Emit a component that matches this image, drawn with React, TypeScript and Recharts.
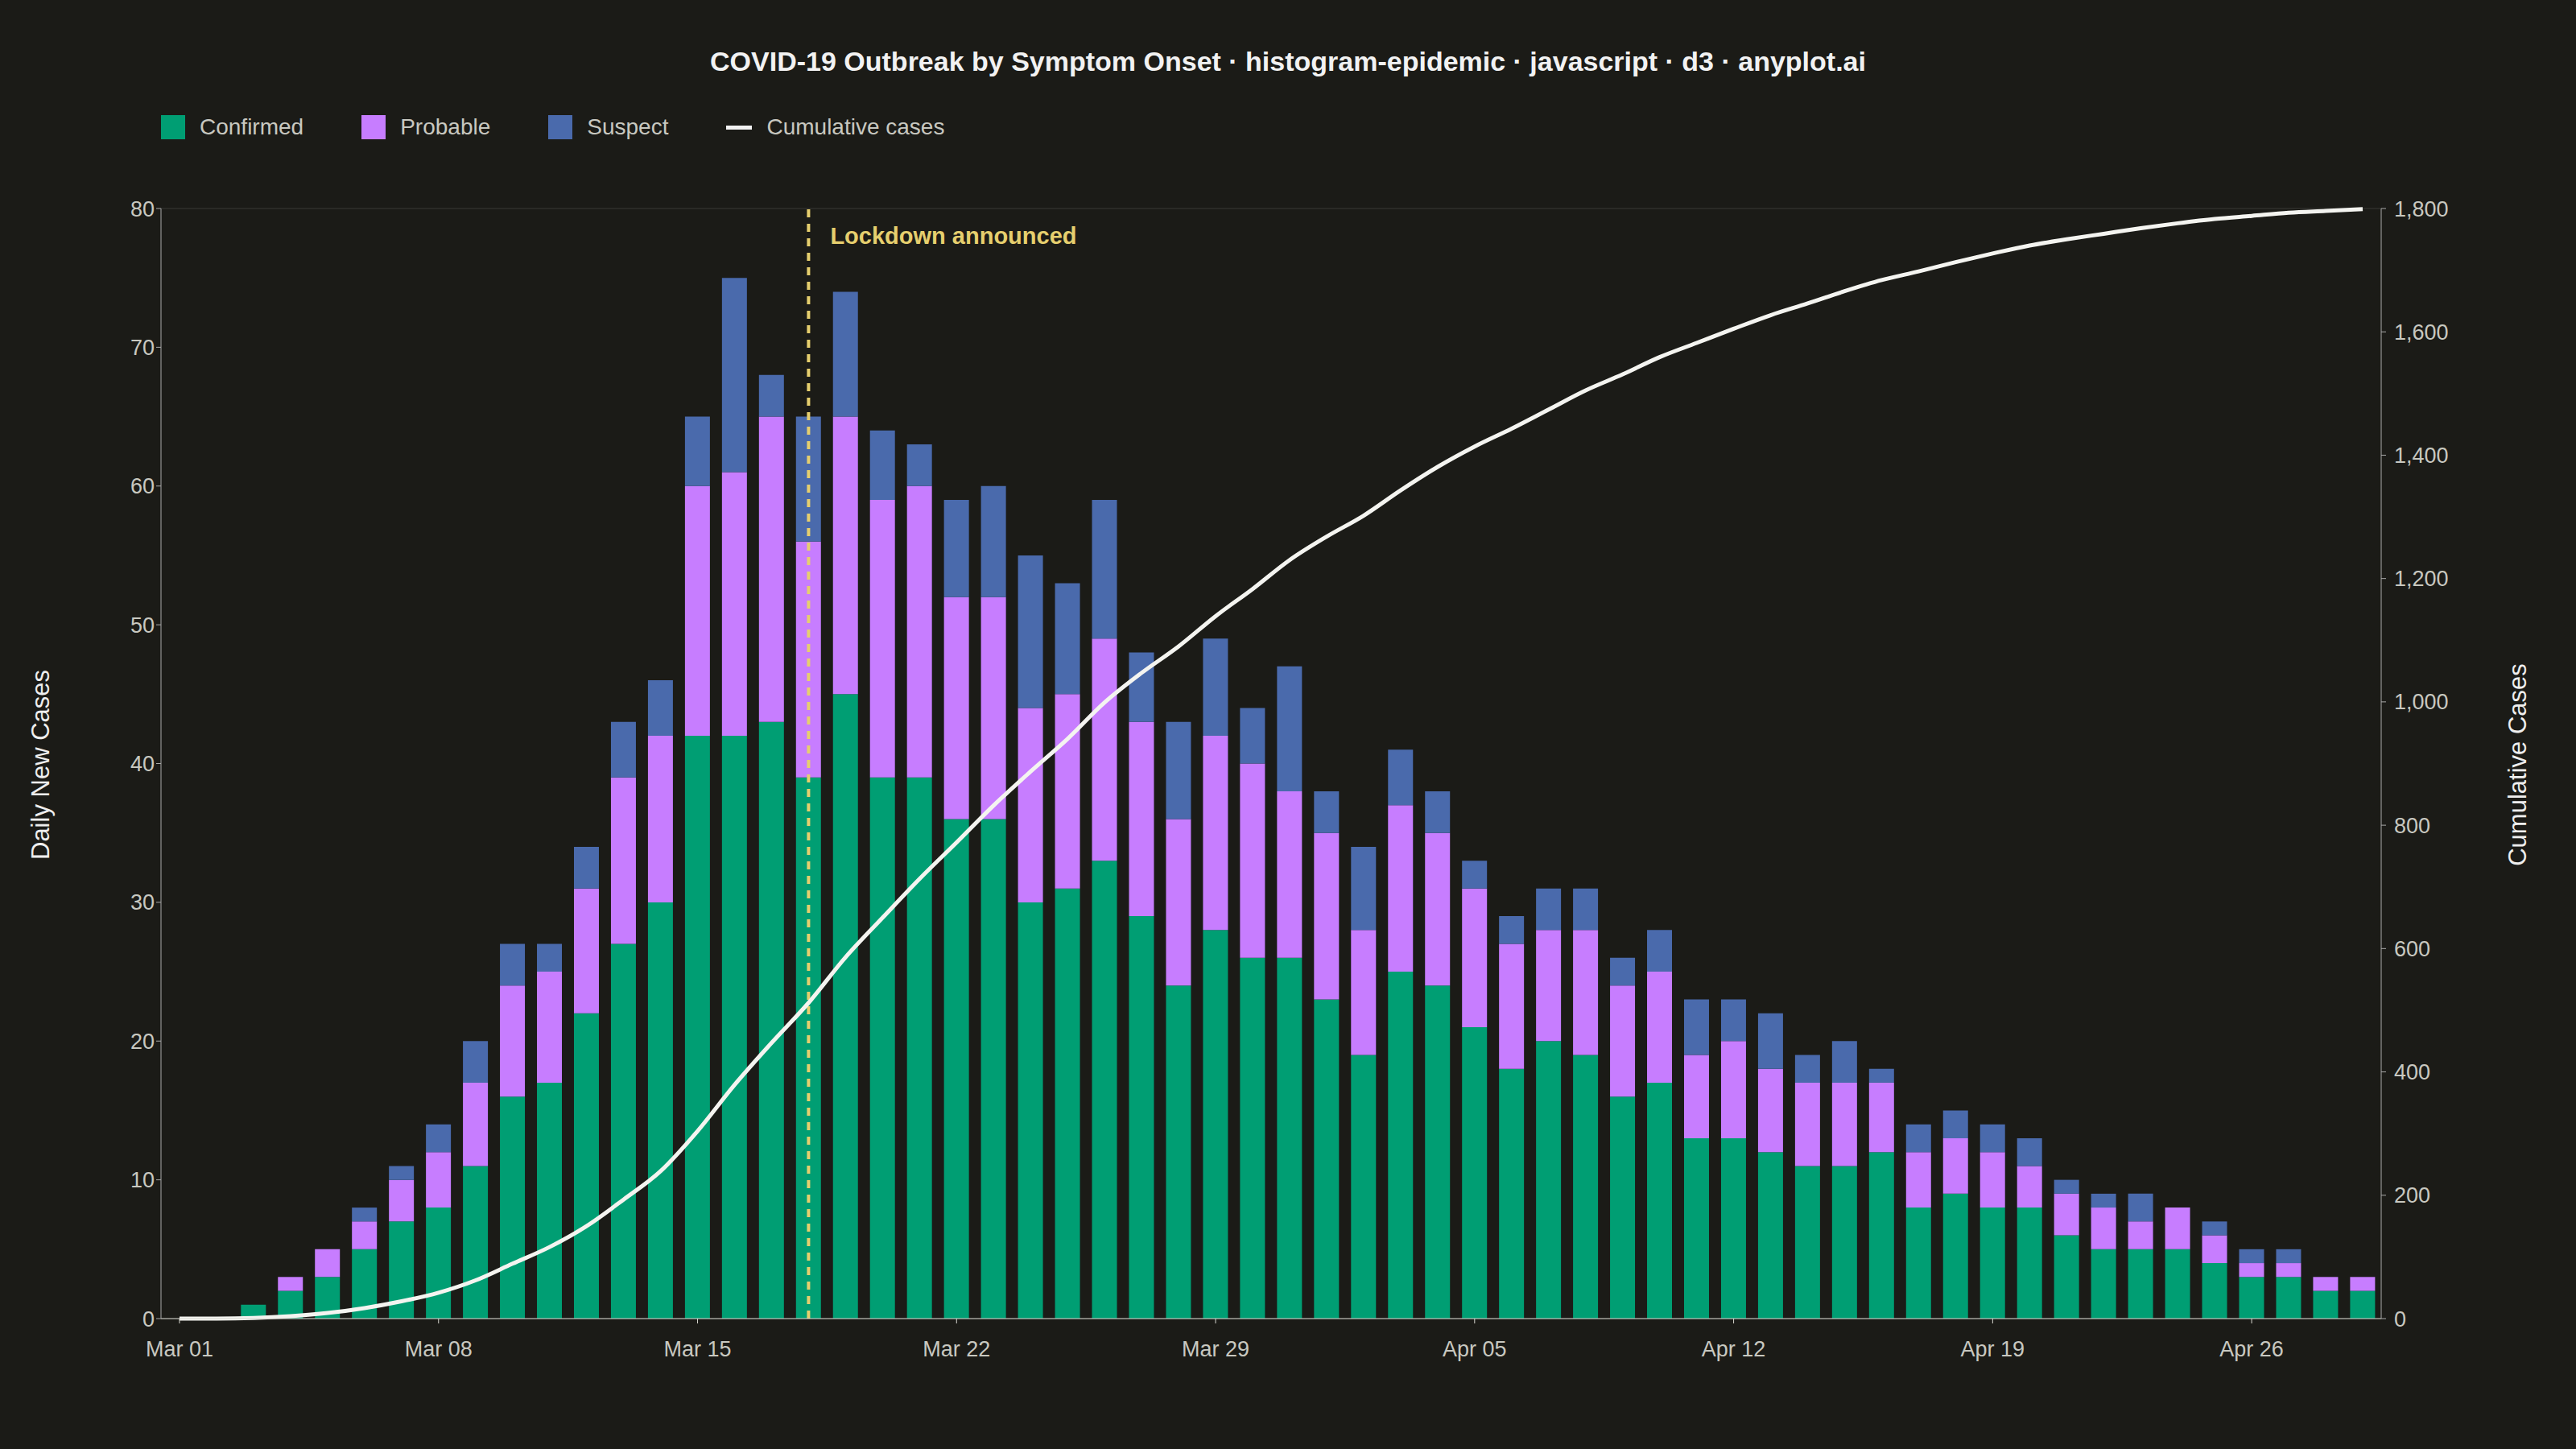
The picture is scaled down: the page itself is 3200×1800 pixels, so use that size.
import { ComposedChart, Bar, Line, XAxis, YAxis, CartesianGrid, ReferenceLine } from 'recharts';

const confirmed = [0, 0, 1, 2, 3, 5, 7, 8, 11, 16, 17, 22, 27, 30, 42, 42, 43, 39, 45, 39, 39, 36, 36, 30, 31, 33, 29, 24, 28, 26, 26, 23, 19, 25, 24, 21, 18, 20, 19, 16, 17, 13, 13, 12, 11, 11, 12, 8, 9, 8, 8, 6, 5, 5, 5, 4, 3, 3, 2, 2];
const probable = [0, 0, 0, 1, 2, 2, 3, 4, 6, 8, 8, 9, 12, 12, 18, 19, 22, 17, 20, 20, 21, 16, 16, 14, 14, 16, 14, 12, 14, 14, 12, 12, 9, 12, 11, 10, 9, 8, 9, 8, 8, 6, 7, 6, 6, 6, 5, 4, 4, 4, 3, 3, 3, 2, 3, 2, 1, 1, 1, 1];
const suspect = [0, 0, 0, 0, 0, 1, 1, 2, 3, 3, 2, 3, 4, 4, 5, 14, 3, 9, 9, 5, 3, 7, 8, 11, 8, 10, 5, 7, 7, 4, 9, 3, 6, 4, 3, 2, 2, 3, 3, 2, 3, 4, 3, 4, 2, 3, 1, 2, 2, 2, 2, 1, 1, 2, 0, 1, 1, 1, 0, 0];
const leftTicks = [0, 10, 20, 30, 40, 50, 60, 70, 80];
const rightTicks = [0, 200, 400, 600, 800, 1000, 1200, 1400, 1600, 1800];

const months = ['Mar', 'Apr'];
const days: string[] = [];
for (let i = 0; i < 60; i++) {
  const m = i < 31 ? 0 : 1;
  const d = i < 31 ? i + 1 : i - 30;
  days.push(`${months[m]} ${String(d).padStart(2, '0')}`);
}

let running = 0;
const data = days.map((day, i) => {
  running += confirmed[i] + probable[i] + suspect[i];
  return { day, confirmed: confirmed[i], probable: probable[i], suspect: suspect[i], cumulative: running };
});

const BG = '#1b1b17';
const TXT = '#c8c8c0';
const FONT = '"Liberation Sans", Arial, sans-serif';

const legendItems = [
  { name: 'Confirmed', color: '#009e73' },
  { name: 'Probable', color: '#c77dff' },
  { name: 'Suspect', color: '#4a6aac' },
];

export default function App() {
  const tick = { fontSize: 27, fill: TXT, fontFamily: FONT };
  return (
    <div style={{ position: 'fixed', left: 0, top: 0, width: 3200, height: 1800, background: BG, fontFamily: FONT }}>
      <div style={{ position: 'absolute', top: 57, width: 3200, textAlign: 'center', color: '#f2f2f2', fontSize: 34, fontWeight: 'bold' }}>
        COVID-19 Outbreak by Symptom Onset · histogram-epidemic · javascript · d3 · anyplot.ai
      </div>
      <div style={{ position: 'absolute', top: 142, left: 200, display: 'flex', alignItems: 'center', color: TXT, fontSize: 28 }}>
        {legendItems.map((it) => (
          <div key={it.name} style={{ display: 'flex', alignItems: 'center', marginRight: 72 }}>
            <div style={{ width: 30, height: 30, background: it.color, marginRight: 18 }} />
            {it.name}
          </div>
        ))}
        <div style={{ display: 'flex', alignItems: 'center' }}>
          <div style={{ width: 32, height: 5, background: '#f2f2f2', marginRight: 18 }} />
          Cumulative cases
        </div>
      </div>
      <div style={{ position: 'absolute', left: 51, top: 950, transform: 'translate(-50%,-50%) rotate(-90deg)', color: '#eee', fontSize: 31, whiteSpace: 'nowrap' }}>
        Daily New Cases
      </div>
      <div style={{ position: 'absolute', left: 3128, top: 950, transform: 'translate(-50%,-50%) rotate(-90deg)', color: '#eee', fontSize: 31, whiteSpace: 'nowrap' }}>
        Cumulative Cases
      </div>
      <ComposedChart width={3200} height={1800} data={data} barCategoryGap="16%" margin={{ top: 259, left: 120, right: 142, bottom: 102 }}>
        <CartesianGrid vertical={false} stroke="#3b3b36" />
        <XAxis dataKey="day" interval={6} tick={tick} height={60} stroke="#d8d8d0" tickLine={{ stroke: '#d8d8d0' }} tickMargin={22} />
        <YAxis yAxisId="l" domain={[0, 80]} ticks={leftTicks} tick={tick} width={80} stroke="#aaa" />
        <YAxis yAxisId="r" orientation="right" domain={[0, 1800]} ticks={rightTicks} tick={tick} width={100} stroke="#aaa" tickMargin={10} tickFormatter={(v: number) => v.toLocaleString('en-US')} />
        <Bar yAxisId="l" dataKey="confirmed" stackId="a" fill="#009e73" isAnimationActive={false} />
        <Bar yAxisId="l" dataKey="probable" stackId="a" fill="#c77dff" isAnimationActive={false} />
        <Bar yAxisId="l" dataKey="suspect" stackId="a" fill="#4a6aac" isAnimationActive={false} />
        <ReferenceLine yAxisId="l" x="Mar 18" stroke="#e6cf6e" strokeWidth={4} strokeDasharray="10 8"
          label={{ value: 'Lockdown announced', position: 'insideTopLeft', fill: '#e6cf6e', fontSize: 29, fontWeight: 'bold', fontFamily: FONT, dx: 22, dy: 18 }} />
        <Line yAxisId="r" dataKey="cumulative" type="monotone" stroke="#f4f4f0" strokeWidth={5} dot={false} isAnimationActive={false} />
      </ComposedChart>
    </div>
  );
}
